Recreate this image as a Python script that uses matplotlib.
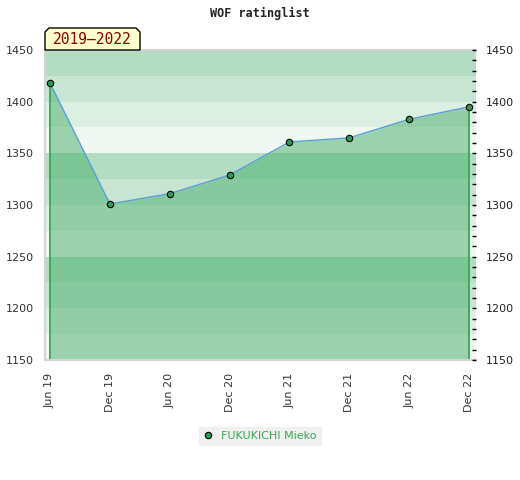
#!/usr/bin/env python
# -*- coding: utf-8 -*-

import matplotlib
matplotlib.use('Agg')
import matplotlib.pyplot as plt
from matplotlib.patches import Polygon
from matplotlib.ticker import MultipleLocator

########################################################################################################################

PERIODES = ['Jun 19', 'Dec 19', 'Jun 20', 'Dec 20', 'Jun 21', 'Dec 21', 'Jun 22', 'Dec 22']
RATINGS = [1418, 1301, 1311, 1329, 1361, 1365, 1383, 1395]
JOUEUR = 'FUKUKICHI Mieko'
TITRE = 'WOF ratinglist'
ETIQUETTE = '2019\u20132022'

Y_MIN, Y_MAX = 1150, 1450
# couleurs des bandes, du haut vers le bas dans chaque bloc de 100
COULEURS_BANDES = ['#b3dcc2', '#c8e5d3', '#dcefe3', '#eff7f2']

VERT = '#3aa655'
VERT_REMPLI = '#47af6a'
BLEU = '#5b9fd6'

########################################################################################################################


def main():
    fig = plt.figure(figsize=(5.2, 4.8), dpi=100)
    W, H = 520, 480
    ax = fig.add_axes([45 / W, 1 - 360 / H, (476 - 45) / W, (360 - 50) / H])

    # bandes horizontales
    for i, haut in enumerate(range(Y_MAX, Y_MIN, -25)):
        ax.axhspan(haut - 25, haut, color=COULEURS_BANDES[i % 4], lw=0, zorder=0)

    x = list(range(len(PERIODES)))
    ax.fill_between(x, RATINGS, Y_MIN, color=VERT_REMPLI, alpha=0.5, lw=0, zorder=1)
    ax.vlines([x[0], x[-1]], Y_MIN, [RATINGS[0], RATINGS[-1]], color=VERT, lw=1.3, zorder=2)
    ax.plot(x, RATINGS, color=BLEU, lw=1.0, zorder=3)
    ax.plot(x, RATINGS, ls='none', marker='o', ms=4.6, mfc='#2e9a55', mec='black', mew=0.8,
            zorder=4, label=JOUEUR)

    ax.set_xlim(-5 / 60, 7 + 7 / 60)
    ax.set_ylim(Y_MIN, Y_MAX)
    ax.set_xticks(x)
    ax.set_xticklabels(PERIODES, rotation=90, fontsize=8, color='#333333')
    ax.tick_params(axis='x', length=0, pad=9)
    ax.yaxis.set_major_locator(MultipleLocator(50))
    ax.tick_params(axis='y', length=0, pad=8, labelsize=8, labelcolor='#333333')

    for cote in ['left', 'top', 'bottom']:
        ax.spines[cote].set_color('#d4d4d4')
        ax.spines[cote].set_linewidth(1.5)
    ax.spines['right'].set_visible(False)

    ax2 = ax.twinx()
    ax2.set_ylim(Y_MIN, Y_MAX)
    ax2.yaxis.set_major_locator(MultipleLocator(50))
    ax2.yaxis.set_minor_locator(MultipleLocator(10))
    ax2.tick_params(axis='y', which='both', direction='in', length=3, width=1, color='black',
                    pad=7, labelsize=8, labelcolor='#222222')
    for cote in ['left', 'top', 'bottom', 'right']:
        ax2.spines[cote].set_visible(False)

    # titre
    fig.text(0.5, 1 - 13 / H, TITRE, ha='center', va='center', family='DejaVu Sans Mono',
             fontweight='bold', fontsize=8.5, color='#222222')

    # etiquette des annees
    x0, x1, y0, y1, c = 45, 140, 28, 50, 4
    pts = [(x0, y1), (x0, y0 + c), (x0 + c, y0), (x1 - c, y0), (x1, y0 + c), (x1, y1)]
    pts = [(px / W, 1 - py / H) for px, py in pts]
    fig.patches.append(Polygon(pts, closed=True, transform=fig.transFigure, facecolor='#ffffcc',
                               edgecolor='black', lw=1, zorder=5))
    fig.text((x0 + x1) / 2 / W, 1 - 40 / H, ETIQUETTE, ha='center', va='center',
             family='DejaVu Sans Mono', fontsize=10.5, color='#8b0000', zorder=6)

    # legende
    leg = fig.legend(loc='center', bbox_to_anchor=(260 / W, 1 - 436 / H), fontsize=8,
                     frameon=True, fancybox=False, framealpha=1, facecolor='#f0f0f0',
                     edgecolor='#f0f0f0', handlelength=0.8, handletextpad=0.8, borderpad=0.4)
    for t in leg.get_texts():
        t.set_color(VERT)

    fig.savefig('out.png', dpi=100)


if __name__ == '__main__':
    main()
